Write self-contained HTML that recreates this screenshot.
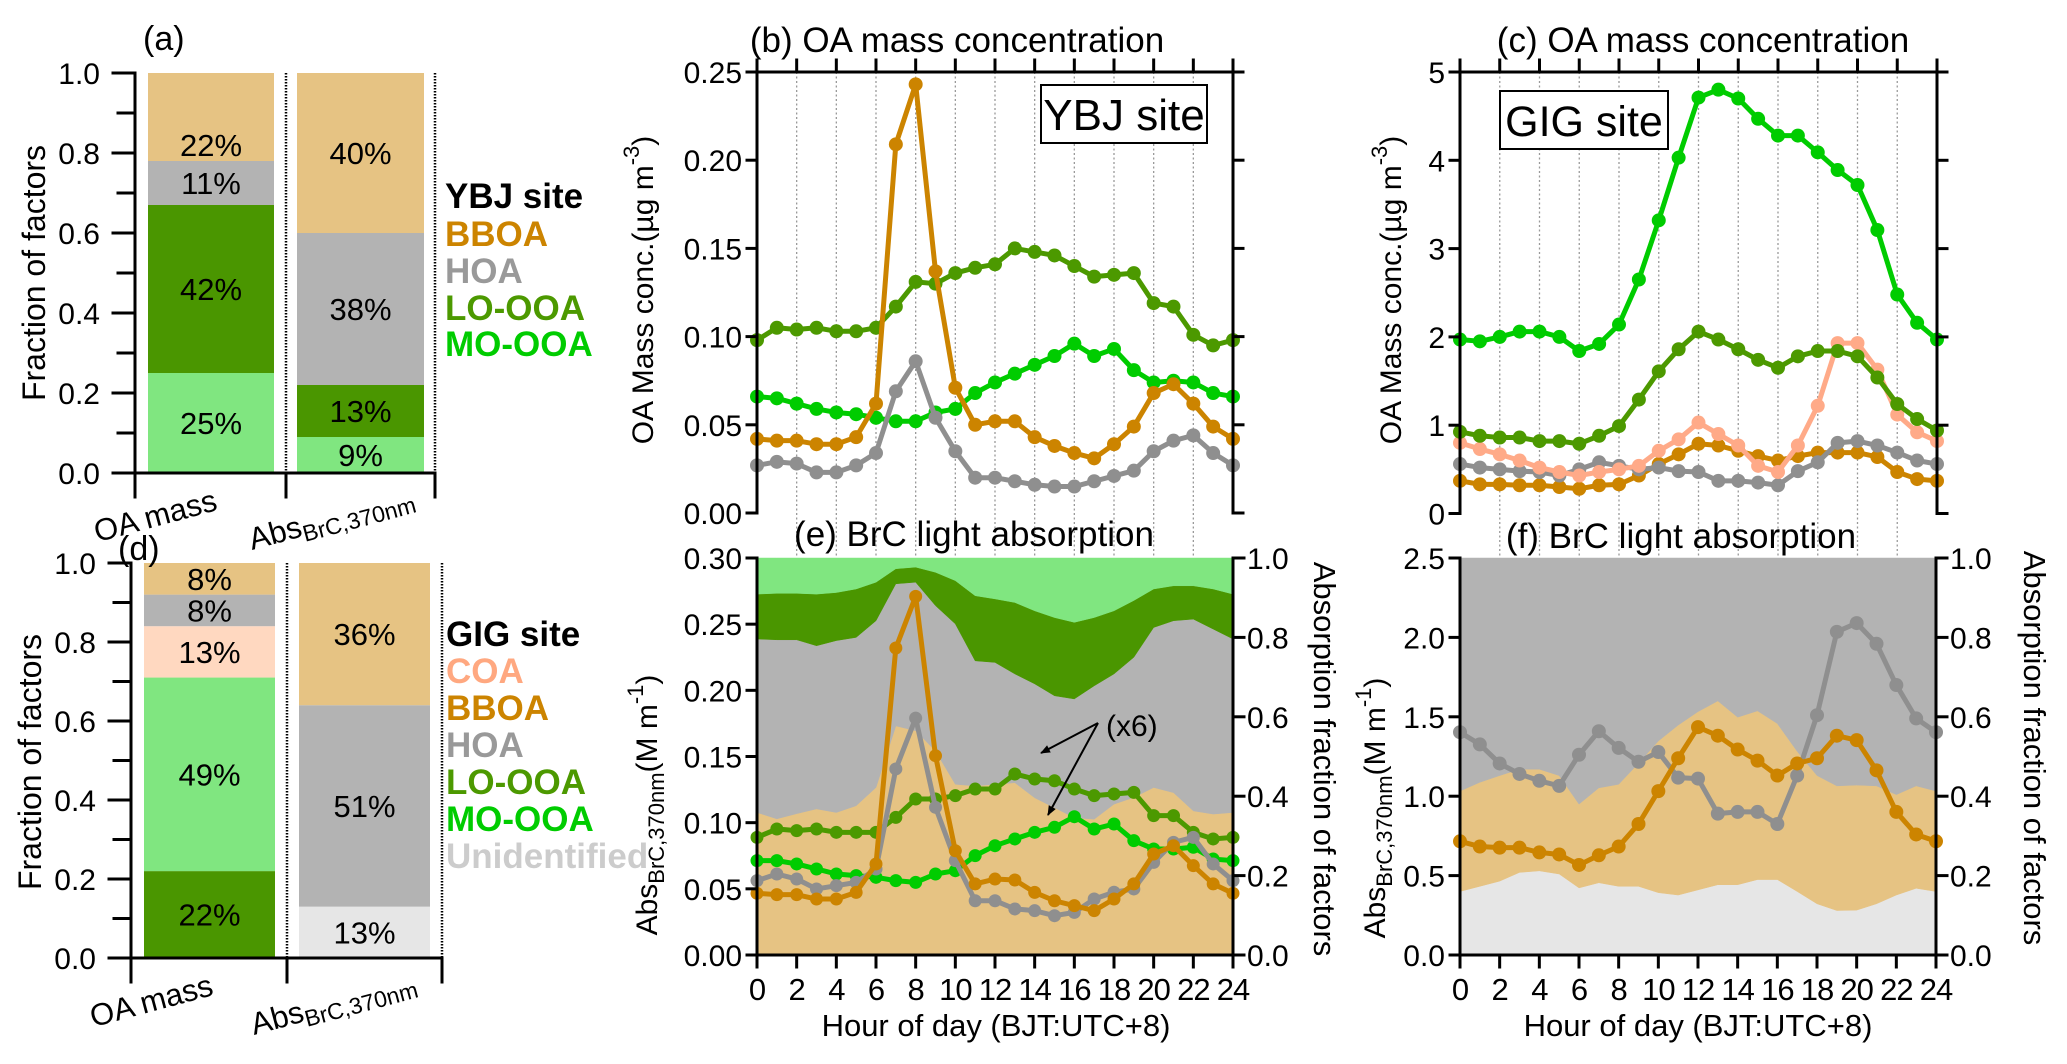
<!DOCTYPE html>
<html><head><meta charset="utf-8"><style>
html,body{margin:0;padding:0;background:#fff;}
svg{display:block;font-family:"Liberation Sans",Arial,sans-serif;}
</style></head><body>
<svg id="fig" width="2067" height="1064" viewBox="0 0 2067 1064" xmlns="http://www.w3.org/2000/svg">
<rect x="0" y="0" width="2067" height="1064" fill="#fff"/>
<g id="grid"></g>
<g id="pa"></g>
<g id="pd"></g>
<g id="pb"></g>
<g id="pc"></g>
<g id="pe"></g>
<g id="pf"></g>

<text x="143" y="50" font-size="34">(a)</text>
<text x="118" y="560" font-size="34">(d)</text>
<text transform="translate(45,273) rotate(-90)" text-anchor="middle" font-size="32">Fraction of factors</text>
<text transform="translate(41,762) rotate(-90)" text-anchor="middle" font-size="32">Fraction of factors</text>
<text transform="translate(158,526) rotate(-15)" text-anchor="middle" font-size="31">OA mass</text>
<text transform="translate(334,528) rotate(-15)" text-anchor="middle" font-size="31">Abs<tspan font-size="23" dy="6">BrC,370nm</tspan></text>
<text transform="translate(154,1011) rotate(-15)" text-anchor="middle" font-size="31">OA mass</text>
<text transform="translate(336,1013) rotate(-15)" text-anchor="middle" font-size="31">Abs<tspan font-size="23" dy="6">BrC,370nm</tspan></text>

<g font-size="35" font-weight="bold">
<text x="445" y="208" fill="#000">YBJ site</text>
<text x="445" y="246" fill="#CC8400">BBOA</text>
<text x="445" y="283" fill="#999999">HOA</text>
<text x="445" y="320" fill="#4C9900">LO-OOA</text>
<text x="445" y="356" fill="#00CC00">MO-OOA</text>
</g>
<g font-size="35" font-weight="bold">
<text x="446" y="646" fill="#000">GIG site</text>
<text x="446" y="683" fill="#FFA880">COA</text>
<text x="446" y="720" fill="#CC8400">BBOA</text>
<text x="446" y="757" fill="#999999">HOA</text>
<text x="446" y="794" fill="#4C9900">LO-OOA</text>
<text x="446" y="831" fill="#00CC00">MO-OOA</text>
<text x="446" y="868" fill="#CCCCCC">Unidentified</text>
</g>

<text x="957" y="52" text-anchor="middle" font-size="35">(b) OA mass concentration</text>
<text x="1703" y="52" text-anchor="middle" font-size="35">(c) OA mass concentration</text>
<text x="974" y="546" text-anchor="middle" font-size="35">(e) BrC light absorption</text>
<text x="1681" y="548" text-anchor="middle" font-size="35">(f) BrC light absorption</text>

<text transform="translate(653,290) rotate(-90)" text-anchor="middle" font-size="30">OA Mass conc.(µg m<tspan font-size="22" dy="-14">-3</tspan><tspan dy="14">)</tspan></text>
<text transform="translate(1401,290) rotate(-90)" text-anchor="middle" font-size="30">OA Mass conc.(µg m<tspan font-size="22" dy="-14">-3</tspan><tspan dy="14">)</tspan></text>
<text transform="translate(657,805) rotate(-90)" text-anchor="middle" font-size="30">Abs<tspan font-size="22" dy="7">BrC,370nm</tspan><tspan dy="-7">(M m</tspan><tspan font-size="22" dy="-14">-1</tspan><tspan dy="14">)</tspan></text>
<text transform="translate(1385,808) rotate(-90)" text-anchor="middle" font-size="30">Abs<tspan font-size="22" dy="7">BrC,370nm</tspan><tspan dy="-7">(M m</tspan><tspan font-size="22" dy="-14">-1</tspan><tspan dy="14">)</tspan></text>
<text transform="translate(1314,759) rotate(90)" text-anchor="middle" font-size="31">Absorption fraction of factors</text>
<text transform="translate(2024,748) rotate(90)" text-anchor="middle" font-size="31">Absorption fraction of factors</text>
<text x="996" y="1036" text-anchor="middle" font-size="31">Hour of day (BJT:UTC+8)</text>
<text x="1698" y="1036" text-anchor="middle" font-size="31">Hour of day (BJT:UTC+8)</text>

<g>
<rect x="1041" y="85" width="166" height="58" fill="#fff" stroke="#000" stroke-width="2"/>
<text x="1124" y="130" text-anchor="middle" font-size="44">YBJ site</text>
</g>
<g>
<rect x="1500" y="91" width="168" height="58" fill="#fff" stroke="#000" stroke-width="2"/>
<text x="1584" y="136" text-anchor="middle" font-size="43">GIG site</text>
</g>

<g id="annot">
<defs><marker id="ah" markerWidth="10" markerHeight="8" refX="9" refY="4" orient="auto" markerUnits="userSpaceOnUse"><path d="M0,0 L10,4 L0,8 z" fill="#000"/></marker></defs>
<text x="1106" y="736" font-size="30">(x6)</text>
<line x1="1098" y1="723" x2="1041" y2="753" stroke="#000" stroke-width="2" marker-end="url(#ah)"/>
<line x1="1098" y1="723" x2="1048" y2="815" stroke="#000" stroke-width="2" marker-end="url(#ah)"/>
</g>

<script>
// ===== data =====
const hours = [0,1,2,3,4,5,6,7,8,9,10,11,12,13,14,15,16,17,18,19,20,21,22,23,24];
const hourTicks = [0,2,4,6,8,10,12,14,16,18,20,22,24];
const aFactors = ['MO-OOA','LO-OOA','HOA','BBOA'];
const aOA = [25,42,11,22];
const aAbs = [9,13,38,40];
const dFactorsOA = ['LO-OOA','MO-OOA','COA','HOA','BBOA'];
const dOA = [22,49,13,8,8];
const dFactorsAbs = ['Unidentified','HOA','BBOA'];
const dAbs = [13,51,36];
const fracTicks = [0,0.2,0.4,0.6,0.8,1.0];
const bTicks = [0,0.05,0.10,0.15,0.20,0.25];
const ybjBBOA = [.042,.041,.041,.039,.039,.043,.062,.209,.243,.137,.071,.050,.052,.052,.043,.038,.034,.031,.039,.049,.068,.073,.062,.049,.042];
const ybjHOA = [.027,.029,.028,.023,.023,.027,.034,.069,.086,.054,.035,.020,.020,.018,.016,.015,.015,.018,.021,.024,.035,.041,.044,.034,.027];
const ybjLO = [.098,.105,.104,.105,.103,.103,.105,.117,.131,.130,.136,.139,.141,.150,.148,.146,.140,.134,.135,.136,.119,.117,.101,.095,.098];
const ybjMO = [.066,.065,.062,.059,.057,.056,.054,.052,.052,.057,.059,.068,.074,.079,.084,.089,.096,.089,.093,.081,.074,.075,.074,.068,.066];
const cTicks = [0,1,2,3,4,5];
const gigMO = [1.97,1.95,2.0,2.06,2.06,2.0,1.84,1.92,2.14,2.65,3.32,4.03,4.71,4.80,4.70,4.47,4.28,4.28,4.09,3.89,3.72,3.21,2.48,2.16,1.97];
const gigLO = [.925,.88,.86,.86,.82,.82,.79,.88,.99,1.29,1.61,1.86,2.06,1.97,1.86,1.74,1.65,1.78,1.84,1.84,1.78,1.54,1.24,1.07,.94];
const gigCOA = [.80,.73,.67,.60,.52,.47,.43,.47,.50,.54,.71,.84,1.03,.90,.77,.54,.47,.77,1.22,1.93,1.93,1.63,1.12,.92,.82];
const gigHOA = [.56,.52,.50,.48,.47,.43,.50,.58,.54,.50,.52,.48,.47,.37,.37,.35,.32,.48,.58,.80,.82,.77,.69,.60,.56];
const gigBBOA = [.37,.33,.33,.32,.32,.30,.28,.32,.33,.43,.56,.67,.79,.77,.71,.65,.60,.65,.69,.69,.69,.64,.47,.39,.37];
const eTicks = [0,0.05,0.10,0.15,0.20,0.25,0.30];
const eAbsBBOA = [.0466,.0456,.0456,.0423,.0423,.0473,.0688,.232,.271,.1506,.0788,.0537,.0574,.0567,.0473,.041,.0373,.0335,.0423,.0537,.0763,.0826,.0675,.0537,.0466];
const eAbsHOA = [.0562,.0612,.0574,.0499,.0524,.0549,.065,.1406,.179,.1116,.0713,.041,.041,.0348,.0335,.0297,.0322,.0423,.0474,.0499,.07,.0851,.0889,.0688,.0562];
const eAbsLO = [.0889,.0952,.094,.0952,.0927,.0927,.0927,.104,.1179,.1179,.1204,.1254,.1254,.1368,.133,.1317,.1254,.1204,.1217,.1229,.1053,.1053,.0927,.0877,.0889];
const eAbsMO = [.0713,.0713,.0688,.065,.0612,.06,.0587,.0562,.0549,.0612,.0637,.0751,.0826,.0877,.0927,.0965,.1045,.0952,.099,.0864,.0801,.0801,.0814,.0725,.0713];
const eFracBBOA = [.359,.343,.356,.368,.359,.376,.422,.577,.565,.514,.430,.426,.430,.434,.396,.371,.346,.342,.380,.397,.422,.409,.363,.355,.359];
const eFracHOA = [.437,.451,.438,.411,.433,.424,.420,.358,.374,.366,.404,.315,.307,.274,.287,.282,.299,.336,.328,.353,.403,.433,.483,.466,.437];
const eFracLO = [.113,.117,.117,.130,.121,.122,.097,.038,.038,.084,.109,.164,.160,.180,.184,.197,.193,.172,.159,.143,.097,.088,.084,.101,.113];
const eFracMO = [.091,.089,.089,.091,.087,.078,.061,.027,.023,.036,.057,.095,.103,.112,.133,.150,.162,.150,.133,.107,.078,.070,.070,.078,.091];
const fTicks = [0,0.5,1.0,1.5,2.0,2.5];
const fAbsHOA = [1.403,1.326,1.206,1.14,1.097,1.065,1.261,1.409,1.304,1.217,1.278,1.117,1.111,.89,.901,.901,.825,1.13,1.51,2.035,2.09,1.96,1.70,1.49,1.403];
const fAbsBBOA = [.716,.683,.676,.676,.646,.633,.567,.628,.683,.825,1.032,1.239,1.435,1.381,1.294,1.224,1.13,1.206,1.239,1.381,1.353,1.163,.901,.759,.716];
const fFracUnid = [.160,.173,.186,.208,.212,.204,.169,.182,.173,.173,.157,.151,.164,.177,.177,.190,.190,.160,.129,.112,.113,.129,.151,.168,.160];
const fFracBBOA = [.253,.262,.266,.260,.256,.248,.211,.239,.257,.310,.382,.428,.449,.463,.422,.425,.393,.353,.323,.314,.315,.297,.253,.258,.253];
const fFracHOA = [.587,.565,.548,.532,.532,.548,.620,.579,.570,.517,.461,.421,.387,.360,.401,.385,.417,.487,.548,.574,.572,.574,.596,.574,.587];

// ===== helpers =====
const NS = 'http://www.w3.org/2000/svg';
const COL = {'BBOA':'#CC8400','HOA':'#8F8F8F','LO-OOA':'#4C9900','MO-OOA':'#00CC00','COA':'#FFAA88'};
const AREA = {'BBOA':'#E6C383','HOA':'#B3B3B3','LO-OOA':'#4A9600','MO-OOA':'#80E680','COA':'#FFD8C0','Unidentified':'#E6E6E6'};
function mk(tag, parent, attrs){ const e=document.createElementNS(NS,tag); for(const k in attrs) e.setAttribute(k,attrs[k]); parent.appendChild(e); return e; }
function lin(d0,d1,p0,p1){ return v => p0 + (v-d0)/(d1-d0)*(p1-p0); }
function slug(s){ return s.toLowerCase().replace(/[^a-z0-9]+/g,'-'); }

function axisLine(g,x1,y1,x2,y2,name){
  const l = mk('line',g,{x1:x1,y1:y1,x2:x2,y2:y2,stroke:'#000','stroke-width':3,'stroke-linecap':'square'});
  
  
}
function label(g,x,y,txt,anchor,size,name){
  const t = mk('text',g,{x:x,y:y,'text-anchor':anchor,'font-size':size});
  t.textContent = txt;
  
  
  return t;
}

function barPanel(gid, cfg, oaF, oaV, absF, absV, fmtName){
  const g = document.getElementById(gid);
  const y = lin(0,1,cfg.y0,cfg.y1);
  const bars = [[cfg.b1,oaF,oaV,'oa-mass'],[cfg.b2,absF,absV,'abs-brc']];
  bars.forEach(b=>{
    let cum = 0;
    b[2].forEach((v,i)=>{
      const f = v/100;
      const r = mk('rect',g,{x:b[0][0],y:y(cum+f),width:b[0][1]-b[0][0],height:y(cum)-y(cum+f),fill:AREA[b[1][i]]});
      
      
      let cy = cum + f/2;
      if (cfg.shift && cfg.shift[b[3]+i] !== undefined) cy = cfg.shift[b[3]+i];
      label(g,(b[0][0]+b[0][1])/2,y(cy)+11,v+'%','middle',31,fmtName+'-pct-'+b[3]+'-'+slug(b[1][i]));
      cum += f;
    });
  });
  cfg.dots.forEach((dx,i)=>{
    const l = mk('line',g,{x1:dx,y1:cfg.y1,x2:dx,y2:cfg.y0,stroke:'#000','stroke-width':2.5,'stroke-dasharray':'1.5 1.5'});
    
    
  });
  axisLine(g,cfg.ax,cfg.y1,cfg.ax,cfg.y0,fmtName+'-y-axis');
  axisLine(g,cfg.ax-22,cfg.y0,cfg.dots[1],cfg.y0,fmtName+'-x-axis');
  [cfg.ax,cfg.dots[0],cfg.dots[1]].forEach((tx,i)=>axisLine(g,tx,cfg.y0,tx,cfg.y0+24,fmtName+'-x-tick-'+i));
  for(let k=0;k<=10;k++){
    const v=k/10; const major = k%2===0;
    axisLine(g,cfg.ax-(major?22:17),y(v),cfg.ax,y(v),fmtName+'-y-tick-'+k);
  }
  fracTicks.forEach(v=>label(g,cfg.ax-35,y(v)+11,v.toFixed(1),'end',30,fmtName+'-y-tick-label-'+v.toFixed(1)));
}
barPanel('pa',{y0:473,y1:73,ax:135,b1:[148,274],b2:[297,424],dots:[286,435],shift:{'oa-mass3':0.82}},aFactors,aOA,aFactors,aAbs,'panel-a');
barPanel('pd',{y0:958,y1:563,ax:131,b1:[144,275],b2:[299,430],dots:[287,442]},dFactorsOA,dOA,dFactorsAbs,dAbs,'panel-d');

function series(g,xs,ys,vals,color,name,r){
  const pts = vals.map((v,i)=>xs(hours[i])+','+ys(v)).join(' ');
  const pl = mk('polyline',g,{points:pts,fill:'none',stroke:color,'stroke-width':5,'stroke-linejoin':'round'});
  
  
  vals.forEach((v,i)=>{
    const c = mk('circle',g,{cx:xs(hours[i]),cy:ys(v),r:r,fill:color});
    
    
  });
}
function stack(g,xs,fy,layers,names,prefix){
  let base = hours.map(()=>0);
  layers.forEach((arr,li)=>{
    const top = arr.map((v,i)=>base[i]+v);
    const upper = hours.map((h,i)=>xs(h)+','+fy(Math.min(1,top[i])));
    const lower = hours.map((h,i)=>xs(h)+','+fy(base[i])).reverse();
    const p = mk('polygon',g,{points:upper.concat(lower).join(' '),fill:AREA[names[li]],stroke:AREA[names[li]],'stroke-width':0.5});
    
    
    base = top;
  });
}

const gridG = document.getElementById('grid');
const xB = lin(0,24,757,1233), yB = lin(0,0.25,513,72);
const xC = lin(0,24,1460,1937), yC = lin(0,5,513.5,72);
hourTicks.slice(1,-1).forEach(h=>{
  [[xB,'b'],[xC,'c']].forEach(p=>{
    const l = mk('line',gridG,{x1:p[0](h),y1:72,x2:p[0](h),y2:558,stroke:'#999','stroke-width':1.3,'stroke-dasharray':'2 2.5'});
    
    
  });
});

function massFrame(g,xs,ys,ticks,fmt,name,yTop,yBot){
  const x0=xs(0), x1=xs(24);
  axisLine(g,x0,yTop,x0,yBot,name+'-y-axis');
  axisLine(g,x1,yTop,x1,yBot,name+'-y-axis-right');
  axisLine(g,x0,yTop,x1,yTop,name+'-top-axis');
  hourTicks.forEach(h=>axisLine(g,xs(h),yTop,xs(h),yTop-12,name+'-top-tick-h'+h));
  ticks.forEach(v=>{
    axisLine(g,x0-10,ys(v),x0,ys(v),name+'-y-tick-'+fmt(v));
    axisLine(g,x1,ys(v),x1+10,ys(v),name+'-y-tick-right-'+fmt(v));
    label(g,x0-15,ys(v)+11,fmt(v),'end',30,name+'-y-tick-label-'+fmt(v));
  });
}
const gb = document.getElementById('pb');
series(gb,xB,yB,ybjMO,COL['MO-OOA'],'b-mo-ooa',7);
series(gb,xB,yB,ybjLO,COL['LO-OOA'],'b-lo-ooa',7);
series(gb,xB,yB,ybjHOA,COL['HOA'],'b-hoa',7);
series(gb,xB,yB,ybjBBOA,COL['BBOA'],'b-bboa',7);
massFrame(gb,xB,yB,bTicks,v=>v.toFixed(2),'panel-b',72,513);
const gc = document.getElementById('pc');
series(gc,xC,yC,gigBBOA,COL['BBOA'],'c-bboa',7);
series(gc,xC,yC,gigHOA,COL['HOA'],'c-hoa',7);
series(gc,xC,yC,gigCOA,COL['COA'],'c-coa',7);
series(gc,xC,yC,gigLO,COL['LO-OOA'],'c-lo-ooa',7);
series(gc,xC,yC,gigMO,COL['MO-OOA'],'c-mo-ooa',7);
massFrame(gc,xC,yC,cTicks,v=>String(v),'panel-c',72,513.5);

function absFrame(g,xs,ys,fy,ticks,fmt,name){
  const x0=xs(0), x1=xs(24);
  axisLine(g,x0,558,x0,955,name+'-y-axis');
  axisLine(g,x1,558,x1,955,name+'-y2-axis');
  axisLine(g,x0,955,x1,955,name+'-x-axis');
  hourTicks.forEach(h=>{
    axisLine(g,xs(h),955,xs(h),967,name+'-x-tick-h'+h);
    const t = label(g,xs(h),1000,String(h),'middle',31,name+'-x-tick-label-h'+h);
    t.setAttribute('letter-spacing','-1');
  });
  ticks.forEach(v=>{
    axisLine(g,x0-10,ys(v),x0,ys(v),name+'-y-tick-'+fmt(v));
    label(g,x0-15,ys(v)+11,fmt(v),'end',30,name+'-y-tick-label-'+fmt(v));
  });
  fracTicks.forEach(v=>{
    axisLine(g,x1,fy(v),x1+11,fy(v),name+'-y2-tick-'+v.toFixed(1));
    label(g,x1+14,fy(v)+11,v.toFixed(1),'start',30,name+'-y2-tick-label-'+v.toFixed(1));
  });
}
const ge = document.getElementById('pe');
const xE = lin(0,24,757,1233), yE = lin(0,0.3,955,558), fE = lin(0,1,955,558);
stack(ge,xE,fE,[eFracBBOA,eFracHOA,eFracLO,eFracMO],['BBOA','HOA','LO-OOA','MO-OOA'],'e');
series(ge,xE,yE,eAbsMO,COL['MO-OOA'],'e-mo-ooa',6.5);
series(ge,xE,yE,eAbsLO,COL['LO-OOA'],'e-lo-ooa',6.5);
series(ge,xE,yE,eAbsHOA,COL['HOA'],'e-hoa',6.5);
series(ge,xE,yE,eAbsBBOA,COL['BBOA'],'e-bboa',6.5);
absFrame(ge,xE,yE,fE,eTicks,v=>v.toFixed(2),'panel-e');
const gf = document.getElementById('pf');
const xF = lin(0,24,1460,1936), yF = lin(0,2.5,955,558), fF = lin(0,1,955,558);
stack(gf,xF,fF,[fFracUnid,fFracBBOA,fFracHOA],['Unidentified','BBOA','HOA'],'f');
series(gf,xF,yF,fAbsHOA,COL['HOA'],'f-hoa',7);
series(gf,xF,yF,fAbsBBOA,COL['BBOA'],'f-bboa',7);
absFrame(gf,xF,yF,fF,fTicks,v=>v.toFixed(1),'panel-f');
</script>
</svg>
</body></html>
